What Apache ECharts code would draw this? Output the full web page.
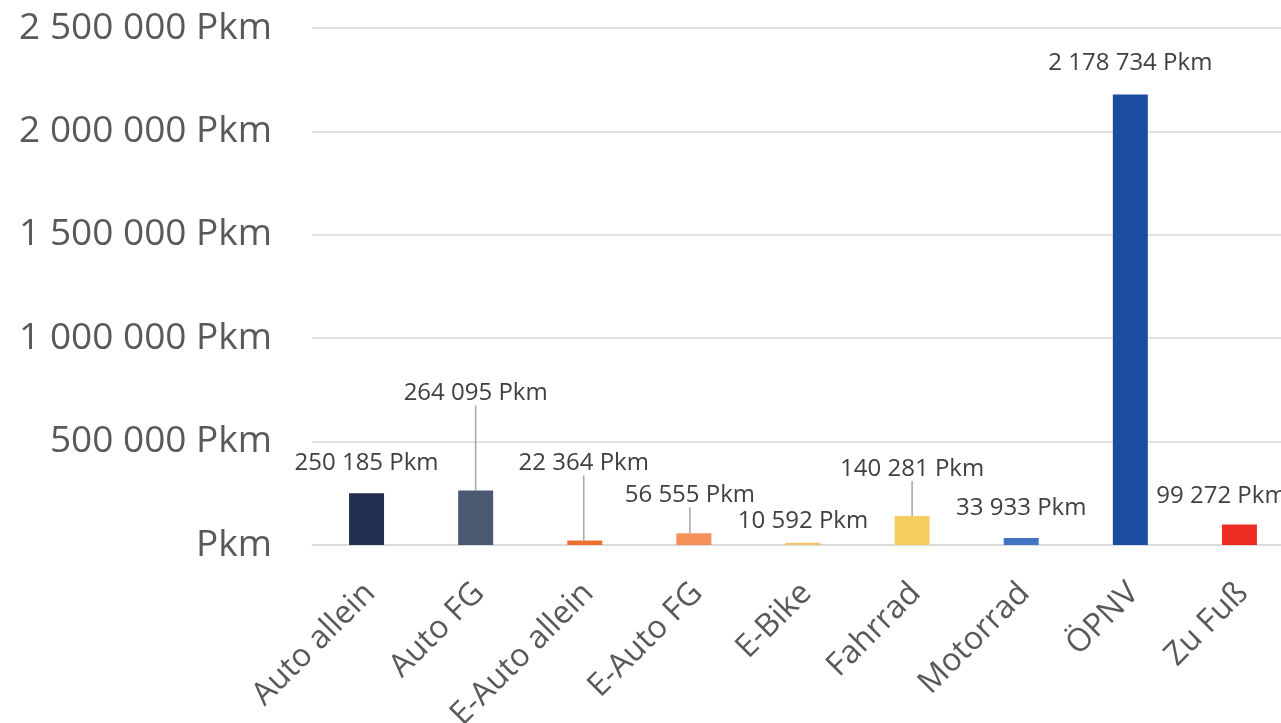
<!DOCTYPE html>
<html>
<head>
<meta charset="utf-8">
<script src="https://cdn.jsdelivr.net/npm/echarts@6/dist/echarts.min.js"></script>
<style>
html,body{margin:0;padding:0;background:#fff;}
#chart{width:1281px;height:723px;}
</style>
</head>
<body>
<div id="chart"></div>
<script>
const categories = ['Auto allein', 'Auto FG', 'E-Auto allein', 'E-Auto FG', 'E-Bike', 'Fahrrad', 'Motorrad', 'ÖPNV', 'Zu Fuß'];
const values = [250185, 264095, 22364, 56555, 10592, 140281, 33933, 2178734, 99272];
const barColors = ['#22314f', '#4a5871', '#ee702e', '#f4915a', '#f2c46a', '#f5cd5e', '#4472c4', '#1b4c9f', '#ee2e24'];
const yTicks = [0, 500000, 1000000, 1500000, 2000000, 2500000];

// label layout nudges (dx, dy) and whether a leader line is drawn
const labelNudge = [[0, -13], [0, -80], [-1, -60], [-4, -21], [0, -5], [0, -30], [0, -13], [0, -14], [-18, -11]];
const leaderLine = [false, true, true, true, false, true, false, false, false];

function fmt(v) {
  return String(Math.round(v)).replace(/\B(?=(\d{3})+(?!\d))/g, ' ');
}

const font = '"Open Sans", "Noto Sans", sans-serif';
const chart = echarts.init(document.getElementById('chart'));
chart.setOption({
  animation: false,
  backgroundColor: '#ffffff',
  grid: { left: 312, right: -13, top: 28, bottom: 178, containLabel: false, outerBoundsMode: 'none' },
  xAxis: {
    type: 'category',
    data: categories,
    axisLine: { lineStyle: { color: '#d9d9d9', width: 1.5 } },
    axisTick: { show: false },
    axisLabel: {
      rotate: 45, fontFamily: font, fontSize: 32, color: '#595959', margin: 34, interval: 0,
      verticalAlign: 'top', lineHeight: 18, padding: [0, 4, 0, 0]
    }
  },
  yAxis: {
    type: 'value',
    min: yTicks[0],
    max: yTicks[yTicks.length - 1],
    interval: yTicks[1] - yTicks[0],
    axisLine: { show: false },
    axisTick: { show: false },
    splitLine: { lineStyle: { color: '#d9d9d9', width: 1.5 } },
    axisLabel: {
      fontFamily: font, fontSize: 37, color: '#595959', margin: 40,
      formatter: v => v === 0 ? 'Pkm' : fmt(v) + ' Pkm'
    }
  },
  series: [{
    type: 'bar',
    barWidth: 35,
    data: values.map((v, i) => ({
      value: v,
      itemStyle: { color: barColors[i] },
      labelLine: { show: leaderLine[i] }
    })),
    label: {
      show: true,
      position: 'top',
      distance: 5,
      fontFamily: font,
      fontSize: 24,
      color: '#404040',
      formatter: p => fmt(p.value) + ' Pkm'
    },
    labelLine: { show: false, lineStyle: { color: '#a6a6a6', width: 1.5 } },
    labelLayout: p => ({ dx: labelNudge[p.dataIndex][0], dy: labelNudge[p.dataIndex][1] })
  }]
});
</script>
</body>
</html>
